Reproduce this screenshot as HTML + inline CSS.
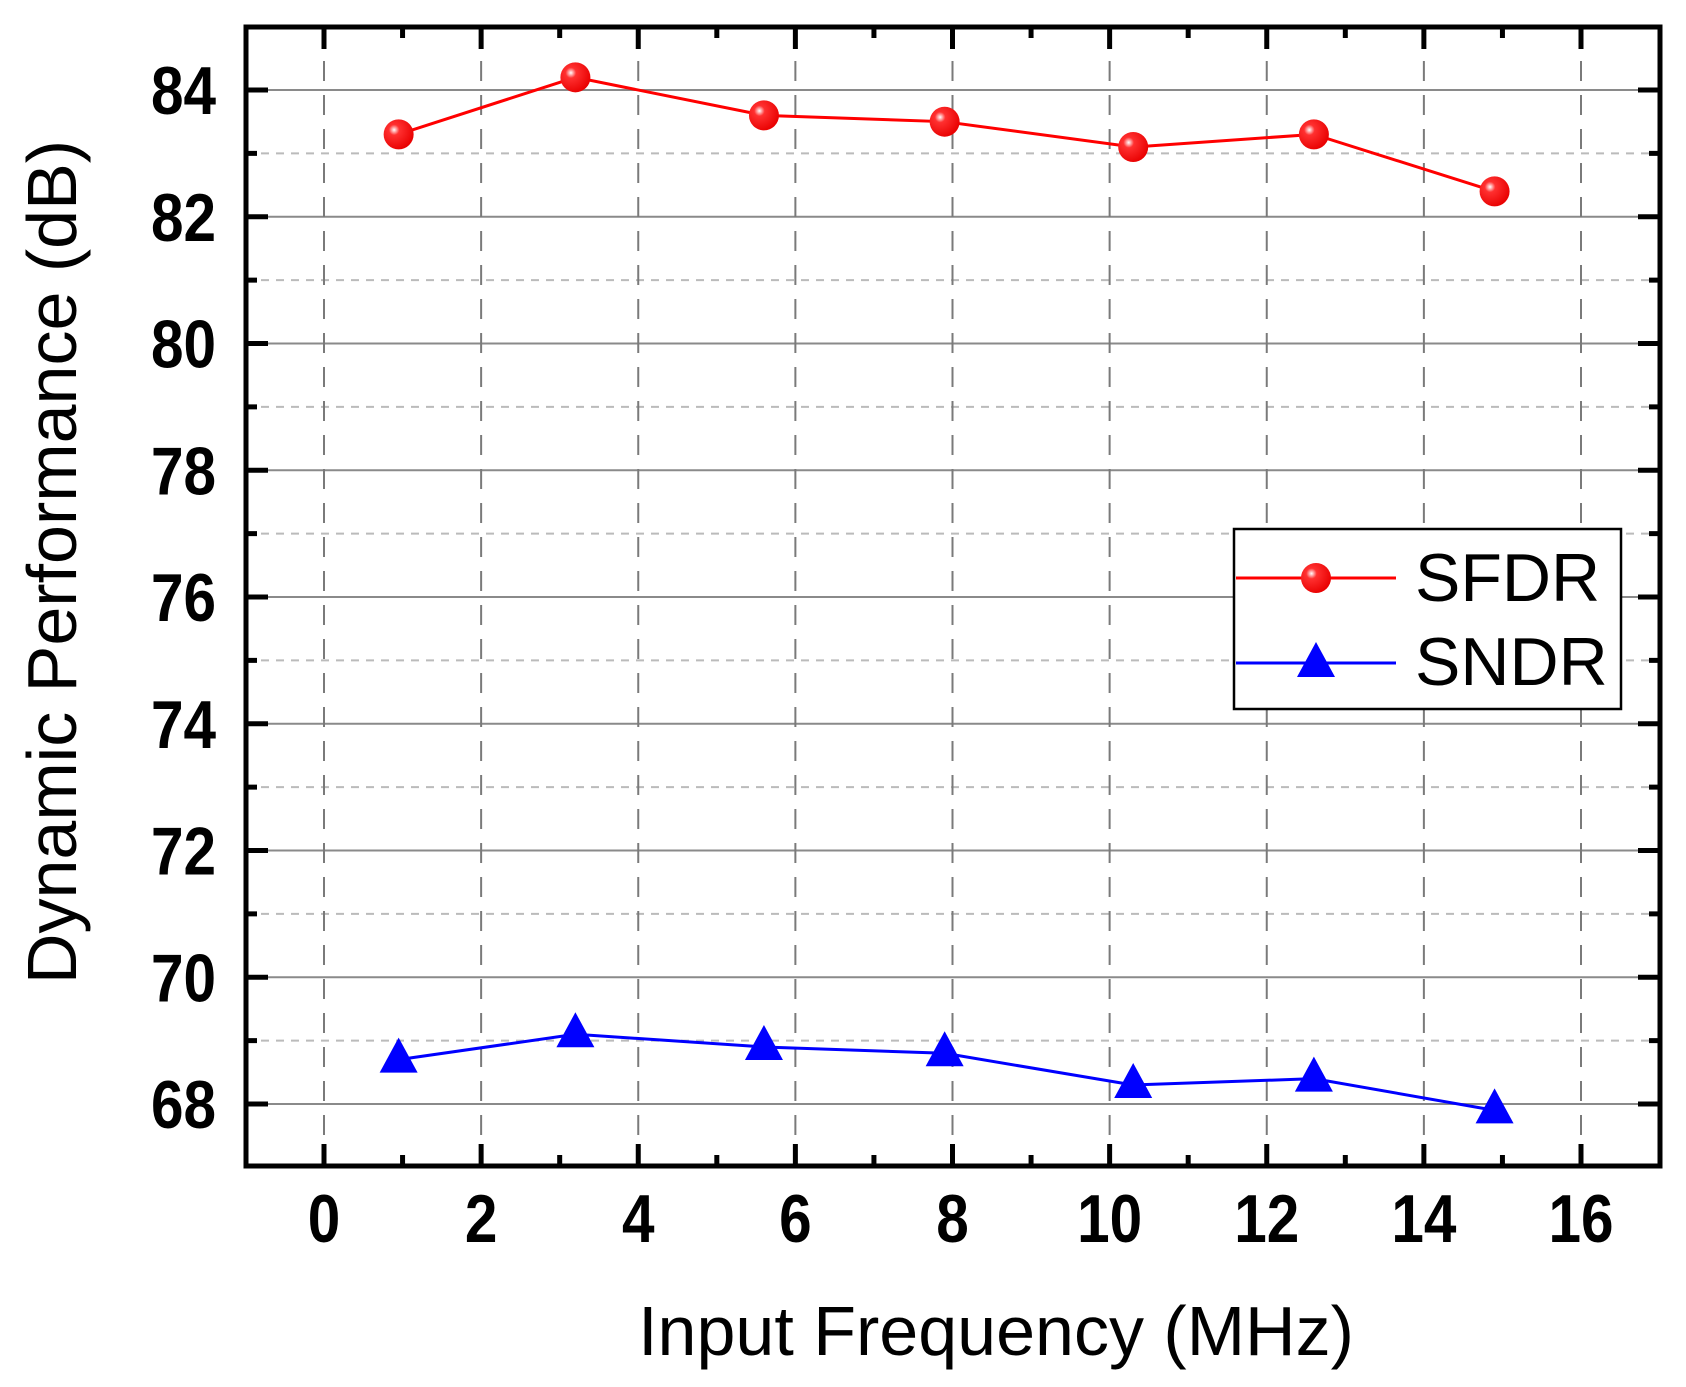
<!DOCTYPE html>
<html><head><meta charset="utf-8"><style>
html,body{margin:0;padding:0;background:#fff;width:1686px;height:1387px;overflow:hidden}
svg{display:block;font-family:"Liberation Sans",Arial,sans-serif}
</style></head><body>
<svg id="chart" width="1686" height="1387" viewBox="0 0 1686 1387" xmlns="http://www.w3.org/2000/svg">
<defs>
<radialGradient id="ball" cx="0.35" cy="0.35" r="0.7">
<stop offset="0" stop-color="#fff"/><stop offset="0.25" stop-color="#ff3030"/><stop offset="1" stop-color="#e80000"/>
</radialGradient>
</defs>
<g id="grid"></g>
<g id="series"></g>
<rect x="246" y="27" width="1414" height="1139" fill="none" stroke="#000" stroke-width="5"/>
<g id="ticks"></g>
<text x="996" y="1355" font-size="70" text-anchor="middle">Input Frequency (MHz)</text>
<text transform="translate(76,562) rotate(-90)" font-size="70" text-anchor="middle">Dynamic Performance (dB)</text>
<g>
<rect x="1234" y="529" width="387" height="180" fill="#fff" stroke="#000" stroke-width="2.5"/>
<g>
<line x1="1236" y1="578" x2="1396" y2="578" stroke="#f00" stroke-width="3"/>
<circle cx="1316" cy="578" r="15" fill="url(#ball)"/>
<text x="1415" y="601" font-size="68">SFDR</text>
</g>
<g>
<line x1="1236" y1="663" x2="1396" y2="663" stroke="#00f" stroke-width="3"/>
<polygon points="1316,642 1335,677 1297,677" fill="#00f"/>
<text x="1415" y="685" font-size="68">SNDR</text>
</g>
</g>
</svg>
<script>
const freqs = [0.95, 3.2, 5.6, 7.9, 10.3, 12.6, 14.9];
const sfdr = [83.3, 84.2, 83.6, 83.5, 83.1, 83.3, 82.4];
const sndr = [68.7, 69.1, 68.9, 68.8, 68.3, 68.4, 67.9];
const xTicks = [0, 2, 4, 6, 8, 10, 12, 14, 16];
const yTicks = [68, 70, 72, 74, 76, 78, 80, 82, 84];

const NS = "http://www.w3.org/2000/svg";
const L=246,R=1660,T=27,B=1166;
function xs(v){return 324 + (v-0)*(1581-324)/16;}
function ys(v){return 1104 - (v-68)*(1104-90)/16;}
function mk(tag, attrs, parent){const e=document.createElementNS(NS,tag);for(const k in attrs)e.setAttribute(k,attrs[k]);parent.appendChild(e);return e;}
const grid=document.getElementById('grid'), ticks=document.getElementById('ticks'), ser=document.getElementById('series');
for(let v=67; v<=85; v+=1){
  const y=ys(v); if(y<=T+2||y>=B-2) continue;
  const major = v%2===0;
  const g=mk('line',{x1:L,x2:R,y1:y,y2:y,stroke:major?'#8a8a8a':'#bbb','stroke-width':2,'stroke-dasharray':major?'none':'8 7'},grid);
  
  
  const len = major?22:11;
  const t1=mk('line',{x1:L,x2:L+len,y1:y,y2:y,stroke:'#000','stroke-width':5},ticks);
  
  
  const t2=mk('line',{x1:R,x2:R-len,y1:y,y2:y,stroke:'#000','stroke-width':5},ticks);
  
  
}
yTicks.forEach(v=>{
  const t=mk('text',{transform:`translate(216,${ys(v)+24}) scale(0.86,1)`,'font-size':68,'font-weight':'bold','text-anchor':'end'},ticks);
  t.textContent=v;
  
  
});
for(let v=-1; v<=17; v+=1){
  const x=xs(v); if(x<=L+2||x>=R-2) continue;
  const major = v%2===0;
  if(major){
    const g=mk('line',{x1:x,x2:x,y1:T,y2:B,stroke:'#7a7a7a','stroke-width':2,'stroke-dasharray':'20 14'},grid);
    
    
  }
  const len = major?22:11;
  const t1=mk('line',{x1:x,x2:x,y1:B,y2:B-len,stroke:'#000','stroke-width':5},ticks);
  
  
  const t2=mk('line',{x1:x,x2:x,y1:T,y2:T+len,stroke:'#000','stroke-width':5},ticks);
  
  
}
xTicks.forEach(v=>{
  const t=mk('text',{transform:`translate(${xs(v)},1242) scale(0.86,1)`,'font-size':68,'font-weight':'bold','text-anchor':'middle'},ticks);
  t.textContent=v;
  
  
});
function line(vals,color,name){
  const pts=freqs.map((f,i)=>xs(f)+','+ys(vals[i])).join(' ');
  const p=mk('polyline',{points:pts,fill:'none',stroke:color,'stroke-width':3},ser);
  
  
}
line(sfdr,'#f00','sfdr-line');
line(sndr,'#00f','sndr-line');
freqs.forEach((f,i)=>{
  const c=mk('circle',{cx:xs(f),cy:ys(sfdr[i]),r:15,fill:'url(#ball)'},ser);
  
  
  const x=xs(f), y=ys(sndr[i]);
  const t=mk('polygon',{points:`${x},${y-22} ${x+19},${y+13} ${x-19},${y+13}`,fill:'#00f'},ser);
  
  
});
</script>
</body></html>
